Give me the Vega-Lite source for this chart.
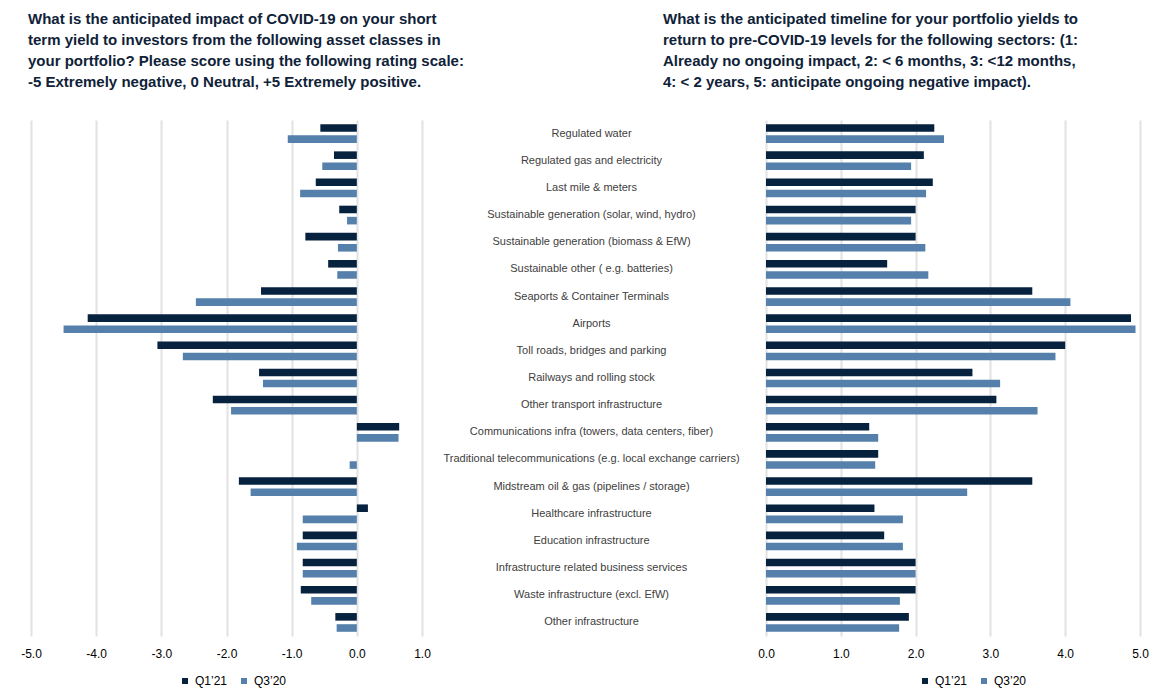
{
  "$schema": "https://vega.github.io/schema/vega-lite/v6.json",
  "background": "white",
  "padding": {"left": 20, "top": 12, "right": 5, "bottom": 5},
  "bounds": "flush",
  "spacing": 344,
  "config": {
    "font": "Liberation Sans",
    "view": {"stroke": null},
    "title": {"font": "Liberation Sans", "fontSize": 15, "fontWeight": "bold", "color": "#0f2238", "lineHeight": 21, "anchor": "start", "frame": "group", "offset": 30},
    "axis": {"domain": false, "ticks": false, "tickSize": 0, "labelFont": "Liberation Sans"}
  },
  "datasets": {
    "survey": [
      {"sector": "Regulated water", "period": "Q1’21", "impact": -0.56, "timeline": 2.25},
      {"sector": "Regulated water", "period": "Q3’20", "impact": -1.06, "timeline": 2.38},
      {"sector": "Regulated gas and electricity", "period": "Q1’21", "impact": -0.35, "timeline": 2.11},
      {"sector": "Regulated gas and electricity", "period": "Q3’20", "impact": -0.53, "timeline": 1.94},
      {"sector": "Last mile & meters", "period": "Q1’21", "impact": -0.63, "timeline": 2.23},
      {"sector": "Last mile & meters", "period": "Q3’20", "impact": -0.87, "timeline": 2.14},
      {"sector": "Sustainable generation (solar, wind, hydro)", "period": "Q1’21", "impact": -0.27, "timeline": 2.0},
      {"sector": "Sustainable generation (solar, wind, hydro)", "period": "Q3’20", "impact": -0.15, "timeline": 1.94},
      {"sector": "Sustainable generation (biomass & EfW)", "period": "Q1’21", "impact": -0.79, "timeline": 2.0},
      {"sector": "Sustainable generation (biomass & EfW)", "period": "Q3’20", "impact": -0.29, "timeline": 2.13},
      {"sector": "Sustainable other ( e.g. batteries)", "period": "Q1’21", "impact": -0.44, "timeline": 1.62},
      {"sector": "Sustainable other ( e.g. batteries)", "period": "Q3’20", "impact": -0.30, "timeline": 2.17},
      {"sector": "Seaports & Container Terminals", "period": "Q1’21", "impact": -1.47, "timeline": 3.56},
      {"sector": "Seaports & Container Terminals", "period": "Q3’20", "impact": -2.47, "timeline": 4.07},
      {"sector": "Airports", "period": "Q1’21", "impact": -4.13, "timeline": 4.88},
      {"sector": "Airports", "period": "Q3’20", "impact": -4.50, "timeline": 4.94},
      {"sector": "Toll roads, bridges and parking", "period": "Q1’21", "impact": -3.06, "timeline": 4.0},
      {"sector": "Toll roads, bridges and parking", "period": "Q3’20", "impact": -2.67, "timeline": 3.87},
      {"sector": "Railways and rolling stock", "period": "Q1’21", "impact": -1.50, "timeline": 2.76},
      {"sector": "Railways and rolling stock", "period": "Q3’20", "impact": -1.44, "timeline": 3.13},
      {"sector": "Other transport infrastructure", "period": "Q1’21", "impact": -2.21, "timeline": 3.08},
      {"sector": "Other transport infrastructure", "period": "Q3’20", "impact": -1.93, "timeline": 3.63},
      {"sector": "Communications infra (towers, data centers, fiber)", "period": "Q1’21", "impact": 0.65, "timeline": 1.38},
      {"sector": "Communications infra (towers, data centers, fiber)", "period": "Q3’20", "impact": 0.64, "timeline": 1.50},
      {"sector": "Traditional telecommunications (e.g. local exchange carriers)", "period": "Q1’21", "impact": 0.0, "timeline": 1.50},
      {"sector": "Traditional telecommunications (e.g. local exchange carriers)", "period": "Q3’20", "impact": -0.11, "timeline": 1.46},
      {"sector": "Midstream oil & gas (pipelines / storage)", "period": "Q1’21", "impact": -1.81, "timeline": 3.56},
      {"sector": "Midstream oil & gas (pipelines / storage)", "period": "Q3’20", "impact": -1.63, "timeline": 2.69},
      {"sector": "Healthcare infrastructure", "period": "Q1’21", "impact": 0.17, "timeline": 1.45},
      {"sector": "Healthcare infrastructure", "period": "Q3’20", "impact": -0.83, "timeline": 1.83},
      {"sector": "Education infrastructure", "period": "Q1’21", "impact": -0.83, "timeline": 1.58},
      {"sector": "Education infrastructure", "period": "Q3’20", "impact": -0.92, "timeline": 1.83},
      {"sector": "Infrastructure related business services", "period": "Q1’21", "impact": -0.83, "timeline": 2.0},
      {"sector": "Infrastructure related business services", "period": "Q3’20", "impact": -0.83, "timeline": 2.0},
      {"sector": "Waste infrastructure (excl. EfW)", "period": "Q1’21", "impact": -0.86, "timeline": 2.0},
      {"sector": "Waste infrastructure (excl. EfW)", "period": "Q3’20", "impact": -0.70, "timeline": 1.79},
      {"sector": "Other infrastructure", "period": "Q1’21", "impact": -0.33, "timeline": 1.91},
      {"sector": "Other infrastructure", "period": "Q3’20", "impact": -0.31, "timeline": 1.78}
    ]
  },
  "resolve": {"scale": {"color": "independent"}, "legend": {"color": "independent"}},
  "hconcat": [
    {
      "width": 391,
      "height": 516,
      "title": {
        "text": [
          "What is the anticipated impact of COVID-19 on your short",
          "term yield to investors from the following asset classes in",
          "your portfolio? Please score using the following rating scale:",
          "-5 Extremely negative, 0 Neutral, +5 Extremely positive."
        ],
        "dx": -3
      },
      "data": {"name": "survey"},
      "mark": {"type": "bar"},
      "encoding": {
        "y": {"field": "sector", "type": "nominal", "sort": null, "axis": null,
              "scale": {"paddingInner": 0.31, "paddingOuter": 0.155}},
        "yOffset": {"field": "period", "type": "nominal", "sort": ["Q1’21", "Q3’20"],
                    "scale": {"paddingInner": 0.32}},
        "x": {"field": "impact", "type": "quantitative",
              "scale": {"domain": [-5, 1], "nice": false},
              "axis": {"title": null, "values": [-5, -4, -3, -2, -1, 0, 1], "labelFlush": false,
                       "labelExpr": "datum.value < 0 ? '-' + format(-datum.value, '.1f') : format(datum.value, '.1f')",
                       "grid": true, "gridColor": "#e2e2e2", "gridWidth": 2,
                       "labelFontSize": 12, "labelColor": "#000000", "labelPadding": 12}},
        "color": {"field": "period", "type": "nominal",
                  "scale": {"domain": ["Q1’21", "Q3’20"], "range": ["#06223f", "#5580ac"]},
                  "legend": {"title": null, "orient": "none", "direction": "horizontal",
                             "legendX": 148, "legendY": 555, "symbolType": "square", "symbolSize": 36,
                             "labelFontSize": 12, "labelColor": "#000000", "labelOffset": 4, "columnPadding": 10,
                             "padding": 0}}
      }
    },
    {
      "width": 374,
      "height": 516,
      "title": {
        "text": [
          "What is the anticipated timeline for your portfolio yields to",
          "return to pre-COVID-19 levels for the following sectors: (1:",
          "Already no ongoing impact, 2: < 6 months, 3: <12 months,",
          "4: < 2 years, 5: anticipate ongoing negative impact)."
        ],
        "dx": -103
      },
      "data": {"name": "survey"},
      "mark": {"type": "bar"},
      "encoding": {
        "y": {"field": "sector", "type": "nominal", "sort": null,
              "scale": {"paddingInner": 0.31, "paddingOuter": 0.155},
              "axis": {"title": null, "labelAlign": "center", "labelPadding": 175, "labelLimit": 400,
                       "labelFontSize": 11, "labelColor": "#404040", "grid": false}},
        "yOffset": {"field": "period", "type": "nominal", "sort": ["Q1’21", "Q3’20"],
                    "scale": {"paddingInner": 0.32}},
        "x": {"field": "timeline", "type": "quantitative",
              "scale": {"domain": [0, 5], "nice": false},
              "axis": {"title": null, "values": [0, 1, 2, 3, 4, 5], "format": ".1f", "labelFlush": false,
                       "grid": true, "gridColor": "#e2e2e2", "gridWidth": 2,
                       "labelFontSize": 12, "labelColor": "#000000", "labelPadding": 12}},
        "color": {"field": "period", "type": "nominal",
                  "scale": {"domain": ["Q1’21", "Q3’20"], "range": ["#06223f", "#5580ac"]},
                  "legend": {"title": null, "orient": "none", "direction": "horizontal",
                             "legendX": 153, "legendY": 555, "symbolType": "square", "symbolSize": 36,
                             "labelFontSize": 12, "labelColor": "#000000", "labelOffset": 4, "columnPadding": 10,
                             "padding": 0}}
      }
    }
  ]
}
